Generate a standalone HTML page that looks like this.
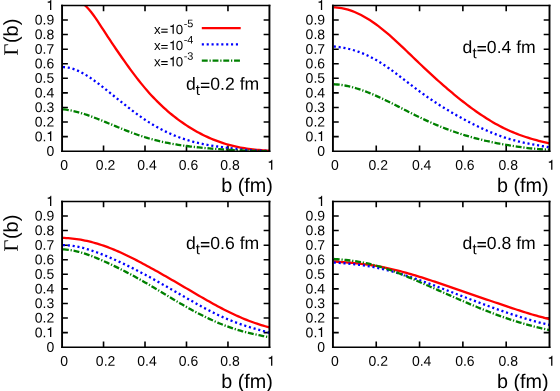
<!DOCTYPE html>
<html><head><meta charset="utf-8"><title>plot</title>
<style>html,body{margin:0;padding:0;background:#fff;overflow:hidden;}svg{display:block;will-change:transform;}text{font-family:"Liberation Sans",sans-serif;fill:#000;}.s{font-family:"Liberation Serif",serif;}.h{fill:none;}</style></head><body>
<svg width="560" height="391" viewBox="0 0 560 391">
<rect width="560" height="391" fill="#fff"/>
<clipPath id="cTL"><rect x="62.07" y="5.43" width="207.36" height="145.77"/></clipPath>
<path d="M62.07 136.62h5.8M269.43 136.62h-5.8M62.07 122.05h5.8M269.43 122.05h-5.8M62.07 107.47h5.8M269.43 107.47h-5.8M62.07 92.89h5.8M269.43 92.89h-5.8M62.07 78.31h5.8M269.43 78.31h-5.8M62.07 63.74h5.8M269.43 63.74h-5.8M62.07 49.16h5.8M269.43 49.16h-5.8M62.07 34.58h5.8M269.43 34.58h-5.8M62.07 20.01h5.8M269.43 20.01h-5.8" stroke="#000" stroke-width="1.55" fill="none"/>
<path d="M103.54 151.2v-5.8M103.54 5.43v5.8M145.01 151.2v-5.8M145.01 5.43v5.8M186.49 151.2v-5.8M186.49 5.43v5.8M227.96 151.2v-5.8M227.96 5.43v5.8" stroke="#000" stroke-width="1.6" fill="none"/>
<g clip-path="url(#cTL)" fill="none" stroke-width="2.3">
<polyline points="62.92,-3.06 64.14,-2.48 66.22,-1.7 68.29,-1.11 70.36,-0.64 72.44,-0.22 74.51,0.22 76.59,0.76 78.66,1.47 80.73,2.41 82.81,3.67 84.88,5.28 86.95,7.24 89.03,9.49 91.1,12.01 93.17,14.74 95.25,17.65 97.32,20.69 99.39,23.84 101.47,27.03 103.54,30.24 105.62,33.43 107.69,36.6 109.76,39.74 111.84,42.85 113.91,45.93 115.98,48.98 118.06,52.01 120.13,55.01 122.2,57.98 124.28,60.92 126.35,63.84 128.43,66.72 130.5,69.56 132.57,72.36 134.65,75.12 136.72,77.83 138.79,80.49 140.87,83.1 142.94,85.64 145.01,88.12 147.09,90.54 149.16,92.89 151.23,95.17 153.31,97.39 155.38,99.55 157.46,101.65 159.53,103.69 161.6,105.67 163.68,107.6 165.75,109.47 167.82,111.28 169.9,113.04 171.97,114.75 174.04,116.41 176.12,118.02 178.19,119.58 180.27,121.09 182.34,122.56 184.41,123.98 186.49,125.36 188.56,126.7 190.63,127.99 192.71,129.25 194.78,130.46 196.85,131.63 198.93,132.77 201,133.86 203.07,134.91 205.15,135.93 207.22,136.9 209.3,137.84 211.37,138.73 213.44,139.59 215.52,140.42 217.59,141.2 219.66,141.95 221.74,142.66 223.81,143.34 225.88,143.98 227.96,144.58 230.03,145.15 232.11,145.69 234.18,146.19 236.25,146.66 238.33,147.1 240.4,147.51 242.47,147.89 244.55,148.24 246.62,148.56 248.69,148.86 250.77,149.13 252.84,149.38 254.91,149.61 256.99,149.81 259.06,149.99 261.14,150.16 263.21,150.3 265.28,150.42 267.36,150.53 269.43,150.62" stroke="#ff0000"/>
<polyline points="62.92,67.17 64.14,67.2 66.22,67.36 68.29,67.67 70.36,68.11 72.44,68.68 74.51,69.37 76.59,70.17 78.66,71.08 80.73,72.09 82.81,73.19 84.88,74.37 86.95,75.64 89.03,76.97 91.1,78.37 93.17,79.82 95.25,81.33 97.32,82.87 99.39,84.45 101.47,86.06 103.54,87.69 105.62,89.34 107.69,91 109.76,92.66 111.84,94.33 113.91,96.01 115.98,97.68 118.06,99.36 120.13,101.03 122.2,102.69 124.28,104.34 126.35,105.98 128.43,107.6 130.5,109.2 132.57,110.79 134.65,112.35 136.72,113.88 138.79,115.39 140.87,116.86 142.94,118.3 145.01,119.71 147.09,121.07 149.16,122.4 151.23,123.68 153.31,124.93 155.38,126.14 157.46,127.31 159.53,128.44 161.6,129.54 163.68,130.59 165.75,131.61 167.82,132.6 169.9,133.54 171.97,134.46 174.04,135.33 176.12,136.17 178.19,136.97 180.27,137.74 182.34,138.47 184.41,139.17 186.49,139.83 188.56,140.46 190.63,141.06 192.71,141.62 194.78,142.15 196.85,142.66 198.93,143.14 201,143.6 203.07,144.03 205.15,144.43 207.22,144.82 209.3,145.19 211.37,145.54 213.44,145.88 215.52,146.19 217.59,146.5 219.66,146.8 221.74,147.08 223.81,147.36 225.88,147.62 227.96,147.89 230.03,148.15 232.11,148.4 234.18,148.65 236.25,148.88 238.33,149.11 240.4,149.34 242.47,149.55 244.55,149.74 246.62,149.93 248.69,150.1 250.77,150.26 252.84,150.4 254.91,150.52 256.99,150.62 259.06,150.71 261.14,150.77 263.21,150.81 265.28,150.83 267.36,150.83 269.43,150.8" stroke="#0000ff" stroke-dasharray="2.1 2.77"/>
<polyline points="62.92,109.3 64.14,109.43 66.22,109.7 68.29,110.02 70.36,110.4 72.44,110.82 74.51,111.29 76.59,111.81 78.66,112.37 80.73,112.96 82.81,113.59 84.88,114.25 86.95,114.95 89.03,115.67 91.1,116.41 93.17,117.18 95.25,117.97 97.32,118.78 99.39,119.6 101.47,120.43 103.54,121.27 105.62,122.11 107.69,122.97 109.76,123.82 111.84,124.68 113.91,125.53 115.98,126.39 118.06,127.24 120.13,128.09 122.2,128.93 124.28,129.76 126.35,130.58 128.43,131.39 130.5,132.19 132.57,132.97 134.65,133.74 136.72,134.48 138.79,135.21 140.87,135.92 142.94,136.6 145.01,137.26 147.09,137.9 149.16,138.51 151.23,139.09 153.31,139.65 155.38,140.19 157.46,140.71 159.53,141.2 161.6,141.68 163.68,142.13 165.75,142.56 167.82,142.98 169.9,143.37 171.97,143.75 174.04,144.12 176.12,144.46 178.19,144.8 180.27,145.12 182.34,145.42 184.41,145.71 186.49,145.99 188.56,146.26 190.63,146.52 192.71,146.77 194.78,147.01 196.85,147.24 198.93,147.45 201,147.66 203.07,147.86 205.15,148.06 207.22,148.24 209.3,148.42 211.37,148.59 213.44,148.76 215.52,148.91 217.59,149.06 219.66,149.21 221.74,149.35 223.81,149.49 225.88,149.62 227.96,149.75 230.03,149.87 232.11,149.99 234.18,150.11 236.25,150.22 238.33,150.33 240.4,150.43 242.47,150.52 244.55,150.61 246.62,150.69 248.69,150.76 250.77,150.83 252.84,150.89 254.91,150.94 256.99,150.98 259.06,151.01 261.14,151.04 263.21,151.05 265.28,151.05 267.36,151.04 269.43,151.02" stroke="#008000" stroke-dasharray="5.9 1.8 1.25 1.8"/>
</g>
<path d="M61.12 5.43H270.38M61.12 151.2H270.38" stroke="#000" stroke-width="1.55" fill="none"/>
<path d="M62.07 4.65V151.97M269.43 4.65V151.97" stroke="#000" stroke-width="1.9" fill="none"/>
<text transform="matrix(1 .0005 0 1 54.22 155.75)" font-size="14" text-anchor="end">0</text>
<text transform="matrix(1 .0005 0 1 54.22 141.17)" font-size="14" text-anchor="end">0.<tspan class="h">1</tspan></text>
<path d="M51.31 141.07V130.97H50.62C50.37 132.27 49.27 132.72 47.72 132.72V133.92H50.03V141.07Z" fill="#000"/>
<text transform="matrix(1 .0005 0 1 54.22 126.6)" font-size="14" text-anchor="end">0.2</text>
<text transform="matrix(1 .0005 0 1 54.22 112.02)" font-size="14" text-anchor="end">0.3</text>
<text transform="matrix(1 .0005 0 1 54.22 97.44)" font-size="14" text-anchor="end">0.4</text>
<text transform="matrix(1 .0005 0 1 54.22 82.86)" font-size="14" text-anchor="end">0.5</text>
<text transform="matrix(1 .0005 0 1 54.22 68.29)" font-size="14" text-anchor="end">0.6</text>
<text transform="matrix(1 .0005 0 1 54.22 53.71)" font-size="14" text-anchor="end">0.7</text>
<text transform="matrix(1 .0005 0 1 54.22 39.13)" font-size="14" text-anchor="end">0.8</text>
<text transform="matrix(1 .0005 0 1 54.22 24.56)" font-size="14" text-anchor="end">0.9</text>
<text class="h" transform="matrix(1 .0005 0 1 54.22 9.98)" font-size="14" text-anchor="end">1</text>
<path d="M51.31 9.88V-0.22H50.62C50.37 1.08 49.27 1.53 47.72 1.53V2.73H50.03V9.88Z" fill="#000"/>
<text transform="matrix(1 .0005 0 1 64.12 169.85)" font-size="14" text-anchor="middle">0</text>
<text transform="matrix(1 .0005 0 1 105.59 169.85)" font-size="14" text-anchor="middle">0.2</text>
<text transform="matrix(1 .0005 0 1 147.06 169.85)" font-size="14" text-anchor="middle">0.4</text>
<text transform="matrix(1 .0005 0 1 188.54 169.85)" font-size="14" text-anchor="middle">0.6</text>
<text transform="matrix(1 .0005 0 1 230.01 169.85)" font-size="14" text-anchor="middle">0.8</text>
<text class="h" transform="matrix(1 .0005 0 1 271.48 169.85)" font-size="14" text-anchor="middle">1</text>
<path d="M272.34 169.8V159.7H271.65C271.4 161 270.3 161.45 268.75 161.45V162.65H271.06V169.8Z" fill="#000"/>
<text transform="matrix(1 .0005 0 1 272.93 192)" font-size="19.8" text-anchor="end">b (fm)</text>
<text transform="matrix(1 .0005 0 1 186.03 89.63)" font-size="17.6">d<tspan font-size="15" dy="5.3">t</tspan><tspan class="h" dy="-5.3">=</tspan>0.2 fm</text>
<path d="M200.87 82.75h8.54v1.37h-8.54zM200.87 86.57h8.54v1.37h-8.54z" fill="#000"/>
<text transform="matrix(.0005 -1 1 0 17.8 55.53)" font-size="20"><tspan class="s" font-size="20.5">&#915;</tspan><tspan dx="0.6">(b)</tspan></text>
<clipPath id="cTR"><rect x="332.93" y="5.43" width="216.57" height="145.77"/></clipPath>
<path d="M332.93 136.62h5.8M549.5 136.62h-5.8M332.93 122.05h5.8M549.5 122.05h-5.8M332.93 107.47h5.8M549.5 107.47h-5.8M332.93 92.89h5.8M549.5 92.89h-5.8M332.93 78.31h5.8M549.5 78.31h-5.8M332.93 63.74h5.8M549.5 63.74h-5.8M332.93 49.16h5.8M549.5 49.16h-5.8M332.93 34.58h5.8M549.5 34.58h-5.8M332.93 20.01h5.8M549.5 20.01h-5.8" stroke="#000" stroke-width="1.55" fill="none"/>
<path d="M376.24 151.2v-5.8M376.24 5.43v5.8M419.56 151.2v-5.8M419.56 5.43v5.8M462.87 151.2v-5.8M462.87 5.43v5.8M506.19 151.2v-5.8M506.19 5.43v5.8" stroke="#000" stroke-width="1.6" fill="none"/>
<g clip-path="url(#cTR)" fill="none" stroke-width="2.3">
<polyline points="333.78,7.31 335.1,7.37 337.26,7.54 339.43,7.8 341.59,8.15 343.76,8.58 345.92,9.11 348.09,9.71 350.26,10.4 352.42,11.18 354.59,12.03 356.75,12.95 358.92,13.96 361.08,15.04 363.25,16.19 365.42,17.41 367.58,18.7 369.75,20.06 371.91,21.48 374.08,22.97 376.24,24.52 378.41,26.13 380.58,27.8 382.74,29.53 384.91,31.3 387.07,33.12 389.24,34.98 391.4,36.88 393.57,38.82 395.74,40.79 397.9,42.79 400.07,44.81 402.23,46.85 404.4,48.9 406.56,50.98 408.73,53.06 410.9,55.14 413.06,57.23 415.23,59.32 417.39,61.4 419.56,63.47 421.72,65.54 423.89,67.58 426.06,69.62 428.22,71.64 430.39,73.64 432.55,75.63 434.72,77.61 436.88,79.56 439.05,81.5 441.22,83.42 443.38,85.33 445.55,87.21 447.71,89.07 449.88,90.91 452.04,92.74 454.21,94.53 456.37,96.31 458.54,98.07 460.71,99.8 462.87,101.5 465.04,103.18 467.2,104.84 469.37,106.47 471.53,108.07 473.7,109.64 475.87,111.19 478.03,112.7 480.2,114.18 482.36,115.64 484.53,117.05 486.69,118.44 488.86,119.79 491.03,121.11 493.19,122.39 495.36,123.63 497.52,124.84 499.69,126.01 501.85,127.14 504.02,128.22 506.19,129.27 508.35,130.28 510.52,131.24 512.68,132.17 514.85,133.06 517.01,133.91 519.18,134.73 521.35,135.52 523.51,136.27 525.68,137 527.84,137.7 530.01,138.37 532.17,139.01 534.34,139.63 536.51,140.23 538.67,140.81 540.84,141.37 543,141.91 545.17,142.44 547.33,142.95 549.5,143.45" stroke="#ff0000"/>
<polyline points="333.78,46.48 335.1,46.59 337.26,46.82 339.43,47.09 341.59,47.42 343.76,47.8 345.92,48.23 348.09,48.72 350.26,49.25 352.42,49.85 354.59,50.5 356.75,51.2 358.92,51.96 361.08,52.77 363.25,53.65 365.42,54.58 367.58,55.56 369.75,56.61 371.91,57.71 374.08,58.88 376.24,60.1 378.41,61.38 380.58,62.72 382.74,64.11 384.91,65.55 387.07,67.02 389.24,68.54 391.4,70.09 393.57,71.68 395.74,73.28 397.9,74.91 400.07,76.56 402.23,78.22 404.4,79.88 406.56,81.55 408.73,83.22 410.9,84.89 413.06,86.55 415.23,88.19 417.39,89.82 419.56,91.42 421.72,93 423.89,94.55 426.06,96.08 428.22,97.58 430.39,99.06 432.55,100.52 434.72,101.95 436.88,103.36 439.05,104.75 441.22,106.12 443.38,107.46 445.55,108.79 447.71,110.09 449.88,111.38 452.04,112.65 454.21,113.9 456.37,115.14 458.54,116.35 460.71,117.56 462.87,118.74 465.04,119.91 467.2,121.06 469.37,122.2 471.53,123.32 473.7,124.42 475.87,125.5 478.03,126.56 480.2,127.59 482.36,128.61 484.53,129.6 486.69,130.56 488.86,131.51 491.03,132.42 493.19,133.31 495.36,134.16 497.52,134.99 499.69,135.79 501.85,136.56 504.02,137.29 506.19,137.99 508.35,138.66 510.52,139.3 512.68,139.9 514.85,140.48 517.01,141.03 519.18,141.56 521.35,142.06 523.51,142.54 525.68,143.01 527.84,143.45 530.01,143.88 532.17,144.3 534.34,144.7 536.51,145.1 538.67,145.49 540.84,145.87 543,146.25 545.17,146.62 547.33,147 549.5,147.37" stroke="#0000ff" stroke-dasharray="2.1 2.77"/>
<polyline points="333.78,84.24 335.1,84.31 337.26,84.48 339.43,84.72 341.59,85 343.76,85.35 345.92,85.75 348.09,86.2 350.26,86.7 352.42,87.25 354.59,87.84 356.75,88.48 358.92,89.17 361.08,89.89 363.25,90.65 365.42,91.44 367.58,92.27 369.75,93.14 371.91,94.03 374.08,94.95 376.24,95.9 378.41,96.88 380.58,97.87 382.74,98.89 384.91,99.92 387.07,100.97 389.24,102.03 391.4,103.11 393.57,104.2 395.74,105.29 397.9,106.39 400.07,107.5 402.23,108.61 404.4,109.71 406.56,110.82 408.73,111.92 410.9,113.02 413.06,114.1 415.23,115.18 417.39,116.25 419.56,117.3 421.72,118.33 423.89,119.35 426.06,120.35 428.22,121.34 430.39,122.3 432.55,123.25 434.72,124.19 436.88,125.1 439.05,126 441.22,126.88 443.38,127.74 445.55,128.59 447.71,129.41 449.88,130.22 452.04,131 454.21,131.77 456.37,132.52 458.54,133.25 460.71,133.96 462.87,134.64 465.04,135.31 467.2,135.96 469.37,136.59 471.53,137.2 473.7,137.8 475.87,138.37 478.03,138.93 480.2,139.47 482.36,140 484.53,140.51 486.69,141 488.86,141.49 491.03,141.95 493.19,142.4 495.36,142.84 497.52,143.27 499.69,143.68 501.85,144.09 504.02,144.48 506.19,144.86 508.35,145.23 510.52,145.59 512.68,145.94 514.85,146.28 517.01,146.6 519.18,146.92 521.35,147.22 523.51,147.5 525.68,147.78 527.84,148.03 530.01,148.28 532.17,148.5 534.34,148.71 536.51,148.91 538.67,149.09 540.84,149.25 543,149.39 545.17,149.51 547.33,149.62 549.5,149.7" stroke="#008000" stroke-dasharray="5.9 1.8 1.25 1.8"/>
</g>
<path d="M331.98 5.43H550.45M331.98 151.2H550.45" stroke="#000" stroke-width="1.55" fill="none"/>
<path d="M332.93 4.65V151.97M549.5 4.65V151.97" stroke="#000" stroke-width="1.9" fill="none"/>
<text transform="matrix(1 .0005 0 1 325.08 155.75)" font-size="14" text-anchor="end">0</text>
<text transform="matrix(1 .0005 0 1 325.08 141.17)" font-size="14" text-anchor="end">0.<tspan class="h">1</tspan></text>
<path d="M322.17 141.07V130.97H321.48C321.23 132.27 320.13 132.72 318.58 132.72V133.92H320.89V141.07Z" fill="#000"/>
<text transform="matrix(1 .0005 0 1 325.08 126.6)" font-size="14" text-anchor="end">0.2</text>
<text transform="matrix(1 .0005 0 1 325.08 112.02)" font-size="14" text-anchor="end">0.3</text>
<text transform="matrix(1 .0005 0 1 325.08 97.44)" font-size="14" text-anchor="end">0.4</text>
<text transform="matrix(1 .0005 0 1 325.08 82.86)" font-size="14" text-anchor="end">0.5</text>
<text transform="matrix(1 .0005 0 1 325.08 68.29)" font-size="14" text-anchor="end">0.6</text>
<text transform="matrix(1 .0005 0 1 325.08 53.71)" font-size="14" text-anchor="end">0.7</text>
<text transform="matrix(1 .0005 0 1 325.08 39.13)" font-size="14" text-anchor="end">0.8</text>
<text transform="matrix(1 .0005 0 1 325.08 24.56)" font-size="14" text-anchor="end">0.9</text>
<text class="h" transform="matrix(1 .0005 0 1 325.08 9.98)" font-size="14" text-anchor="end">1</text>
<path d="M322.17 9.88V-0.22H321.48C321.23 1.08 320.13 1.53 318.58 1.53V2.73H320.89V9.88Z" fill="#000"/>
<text transform="matrix(1 .0005 0 1 334.98 169.85)" font-size="14" text-anchor="middle">0</text>
<text transform="matrix(1 .0005 0 1 378.29 169.85)" font-size="14" text-anchor="middle">0.2</text>
<text transform="matrix(1 .0005 0 1 421.61 169.85)" font-size="14" text-anchor="middle">0.4</text>
<text transform="matrix(1 .0005 0 1 464.92 169.85)" font-size="14" text-anchor="middle">0.6</text>
<text transform="matrix(1 .0005 0 1 508.24 169.85)" font-size="14" text-anchor="middle">0.8</text>
<text class="h" transform="matrix(1 .0005 0 1 551.55 169.85)" font-size="14" text-anchor="middle">1</text>
<path d="M552.41 169.8V159.7H551.72C551.47 161 550.37 161.45 548.82 161.45V162.65H551.13V169.8Z" fill="#000"/>
<text transform="matrix(1 .0005 0 1 548.7 192)" font-size="19.8" text-anchor="end">b (fm)</text>
<text transform="matrix(1 .0005 0 1 462.6 52.93)" font-size="17.6">d<tspan font-size="15" dy="5.3">t</tspan><tspan class="h" dy="-5.3">=</tspan>0.4 fm</text>
<path d="M477.44 46.05h8.54v1.37h-8.54zM477.44 49.87h8.54v1.37h-8.54z" fill="#000"/>
<clipPath id="cBL"><rect x="62.07" y="201.43" width="207.36" height="145.77"/></clipPath>
<path d="M62.07 332.62h5.8M269.43 332.62h-5.8M62.07 318.05h5.8M269.43 318.05h-5.8M62.07 303.47h5.8M269.43 303.47h-5.8M62.07 288.89h5.8M269.43 288.89h-5.8M62.07 274.31h5.8M269.43 274.31h-5.8M62.07 259.74h5.8M269.43 259.74h-5.8M62.07 245.16h5.8M269.43 245.16h-5.8M62.07 230.58h5.8M269.43 230.58h-5.8M62.07 216.01h5.8M269.43 216.01h-5.8" stroke="#000" stroke-width="1.55" fill="none"/>
<path d="M103.54 347.2v-5.8M103.54 201.43v5.8M145.01 347.2v-5.8M145.01 201.43v5.8M186.49 347.2v-5.8M186.49 201.43v5.8M227.96 347.2v-5.8M227.96 201.43v5.8" stroke="#000" stroke-width="1.6" fill="none"/>
<g clip-path="url(#cBL)" fill="none" stroke-width="2.3">
<polyline points="62.92,237.92 64.14,237.96 66.22,238.06 68.29,238.2 70.36,238.37 72.44,238.57 74.51,238.81 76.59,239.08 78.66,239.39 80.73,239.73 82.81,240.11 84.88,240.52 86.95,240.96 89.03,241.44 91.1,241.95 93.17,242.49 95.25,243.06 97.32,243.67 99.39,244.3 101.47,244.97 103.54,245.68 105.62,246.41 107.69,247.17 109.76,247.96 111.84,248.78 113.91,249.63 115.98,250.5 118.06,251.39 120.13,252.31 122.2,253.25 124.28,254.22 126.35,255.2 128.43,256.2 130.5,257.22 132.57,258.26 134.65,259.31 136.72,260.38 138.79,261.46 140.87,262.55 142.94,263.65 145.01,264.76 147.09,265.89 149.16,267.02 151.23,268.15 153.31,269.3 155.38,270.45 157.46,271.61 159.53,272.78 161.6,273.95 163.68,275.13 165.75,276.32 167.82,277.51 169.9,278.7 171.97,279.9 174.04,281.1 176.12,282.31 178.19,283.52 180.27,284.73 182.34,285.94 184.41,287.16 186.49,288.38 188.56,289.59 190.63,290.81 192.71,292.03 194.78,293.25 196.85,294.46 198.93,295.67 201,296.88 203.07,298.08 205.15,299.27 207.22,300.45 209.3,301.62 211.37,302.78 213.44,303.93 215.52,305.07 217.59,306.19 219.66,307.3 221.74,308.39 223.81,309.46 225.88,310.52 227.96,311.56 230.03,312.57 232.11,313.57 234.18,314.54 236.25,315.49 238.33,316.42 240.4,317.32 242.47,318.21 244.55,319.07 246.62,319.9 248.69,320.71 250.77,321.5 252.84,322.26 254.91,322.99 256.99,323.7 259.06,324.38 261.14,325.03 263.21,325.66 265.28,326.26 267.36,326.83 269.43,327.37" stroke="#ff0000"/>
<polyline points="62.92,245.18 64.14,245.18 66.22,245.24 68.29,245.37 70.36,245.56 72.44,245.82 74.51,246.12 76.59,246.49 78.66,246.91 80.73,247.37 82.81,247.88 84.88,248.44 86.95,249.04 89.03,249.67 91.1,250.34 93.17,251.05 95.25,251.78 97.32,252.54 99.39,253.33 101.47,254.14 103.54,254.96 105.62,255.81 107.69,256.67 109.76,257.55 111.84,258.44 113.91,259.34 115.98,260.27 118.06,261.2 120.13,262.15 122.2,263.12 124.28,264.1 126.35,265.09 128.43,266.1 130.5,267.12 132.57,268.15 134.65,269.2 136.72,270.26 138.79,271.33 140.87,272.41 142.94,273.5 145.01,274.61 147.09,275.72 149.16,276.85 151.23,277.99 153.31,279.13 155.38,280.28 157.46,281.45 159.53,282.61 161.6,283.79 163.68,284.96 165.75,286.15 167.82,287.33 169.9,288.52 171.97,289.71 174.04,290.9 176.12,292.1 178.19,293.29 180.27,294.48 182.34,295.68 184.41,296.86 186.49,298.05 188.56,299.23 190.63,300.41 192.71,301.58 194.78,302.74 196.85,303.9 198.93,305.04 201,306.18 203.07,307.3 205.15,308.41 207.22,309.5 209.3,310.58 211.37,311.64 213.44,312.68 215.52,313.71 217.59,314.71 219.66,315.69 221.74,316.65 223.81,317.58 225.88,318.49 227.96,319.37 230.03,320.23 232.11,321.05 234.18,321.86 236.25,322.63 238.33,323.39 240.4,324.12 242.47,324.83 244.55,325.52 246.62,326.19 248.69,326.84 250.77,327.48 252.84,328.1 254.91,328.71 256.99,329.3 259.06,329.88 261.14,330.45 263.21,331.01 265.28,331.56 267.36,332.1 269.43,332.64" stroke="#0000ff" stroke-dasharray="2.1 2.77"/>
<polyline points="62.92,249.4 64.14,249.46 66.22,249.61 68.29,249.83 70.36,250.11 72.44,250.46 74.51,250.86 76.59,251.32 78.66,251.83 80.73,252.39 82.81,253 84.88,253.65 86.95,254.34 89.03,255.07 91.1,255.84 93.17,256.64 95.25,257.47 97.32,258.32 99.39,259.2 101.47,260.11 103.54,261.02 105.62,261.96 107.69,262.91 109.76,263.87 111.84,264.85 113.91,265.85 115.98,266.86 118.06,267.88 120.13,268.92 122.2,269.97 124.28,271.03 126.35,272.11 128.43,273.2 130.5,274.3 132.57,275.42 134.65,276.55 136.72,277.7 138.79,278.85 140.87,280.02 142.94,281.2 145.01,282.39 147.09,283.6 149.16,284.81 151.23,286.03 153.31,287.26 155.38,288.5 157.46,289.74 159.53,290.99 161.6,292.24 163.68,293.49 165.75,294.74 167.82,295.99 169.9,297.24 171.97,298.49 174.04,299.72 176.12,300.96 178.19,302.18 180.27,303.39 182.34,304.6 184.41,305.79 186.49,306.97 188.56,308.14 190.63,309.29 192.71,310.42 194.78,311.54 196.85,312.64 198.93,313.73 201,314.79 203.07,315.84 205.15,316.87 207.22,317.87 209.3,318.86 211.37,319.82 213.44,320.76 215.52,321.68 217.59,322.58 219.66,323.44 221.74,324.29 223.81,325.11 225.88,325.9 227.96,326.66 230.03,327.4 232.11,328.11 234.18,328.79 236.25,329.45 238.33,330.08 240.4,330.69 242.47,331.28 244.55,331.84 246.62,332.38 248.69,332.9 250.77,333.4 252.84,333.88 254.91,334.35 256.99,334.79 259.06,335.22 261.14,335.64 263.21,336.03 265.28,336.42 267.36,336.79 269.43,337.14" stroke="#008000" stroke-dasharray="5.9 1.8 1.25 1.8"/>
</g>
<path d="M61.12 201.43H270.38M61.12 347.2H270.38" stroke="#000" stroke-width="1.55" fill="none"/>
<path d="M62.07 200.66V347.97M269.43 200.66V347.97" stroke="#000" stroke-width="1.9" fill="none"/>
<text transform="matrix(1 .0005 0 1 54.22 351.75)" font-size="14" text-anchor="end">0</text>
<text transform="matrix(1 .0005 0 1 54.22 337.17)" font-size="14" text-anchor="end">0.<tspan class="h">1</tspan></text>
<path d="M51.31 337.07V326.97H50.62C50.37 328.27 49.27 328.72 47.72 328.72V329.92H50.03V337.07Z" fill="#000"/>
<text transform="matrix(1 .0005 0 1 54.22 322.6)" font-size="14" text-anchor="end">0.2</text>
<text transform="matrix(1 .0005 0 1 54.22 308.02)" font-size="14" text-anchor="end">0.3</text>
<text transform="matrix(1 .0005 0 1 54.22 293.44)" font-size="14" text-anchor="end">0.4</text>
<text transform="matrix(1 .0005 0 1 54.22 278.87)" font-size="14" text-anchor="end">0.5</text>
<text transform="matrix(1 .0005 0 1 54.22 264.29)" font-size="14" text-anchor="end">0.6</text>
<text transform="matrix(1 .0005 0 1 54.22 249.71)" font-size="14" text-anchor="end">0.7</text>
<text transform="matrix(1 .0005 0 1 54.22 235.13)" font-size="14" text-anchor="end">0.8</text>
<text transform="matrix(1 .0005 0 1 54.22 220.56)" font-size="14" text-anchor="end">0.9</text>
<text class="h" transform="matrix(1 .0005 0 1 54.22 205.98)" font-size="14" text-anchor="end">1</text>
<path d="M51.31 205.88V195.78H50.62C50.37 197.08 49.27 197.53 47.72 197.53V198.73H50.03V205.88Z" fill="#000"/>
<text transform="matrix(1 .0005 0 1 64.12 365.85)" font-size="14" text-anchor="middle">0</text>
<text transform="matrix(1 .0005 0 1 105.59 365.85)" font-size="14" text-anchor="middle">0.2</text>
<text transform="matrix(1 .0005 0 1 147.06 365.85)" font-size="14" text-anchor="middle">0.4</text>
<text transform="matrix(1 .0005 0 1 188.54 365.85)" font-size="14" text-anchor="middle">0.6</text>
<text transform="matrix(1 .0005 0 1 230.01 365.85)" font-size="14" text-anchor="middle">0.8</text>
<text class="h" transform="matrix(1 .0005 0 1 271.48 365.85)" font-size="14" text-anchor="middle">1</text>
<path d="M272.34 365.8V355.7H271.65C271.4 357 270.3 357.45 268.75 357.45V358.65H271.06V365.8Z" fill="#000"/>
<text transform="matrix(1 .0005 0 1 272.93 388)" font-size="19.8" text-anchor="end">b (fm)</text>
<text transform="matrix(1 .0005 0 1 186.03 248.93)" font-size="17.6">d<tspan font-size="15" dy="5.3">t</tspan><tspan class="h" dy="-5.3">=</tspan>0.6 fm</text>
<path d="M200.87 242.05h8.54v1.37h-8.54zM200.87 245.87h8.54v1.37h-8.54z" fill="#000"/>
<text transform="matrix(.0005 -1 1 0 17.8 251.53)" font-size="20"><tspan class="s" font-size="20.5">&#915;</tspan><tspan dx="0.6">(b)</tspan></text>
<clipPath id="cBR"><rect x="332.93" y="201.43" width="216.57" height="145.77"/></clipPath>
<path d="M332.93 332.62h5.8M549.5 332.62h-5.8M332.93 318.05h5.8M549.5 318.05h-5.8M332.93 303.47h5.8M549.5 303.47h-5.8M332.93 288.89h5.8M549.5 288.89h-5.8M332.93 274.31h5.8M549.5 274.31h-5.8M332.93 259.74h5.8M549.5 259.74h-5.8M332.93 245.16h5.8M549.5 245.16h-5.8M332.93 230.58h5.8M549.5 230.58h-5.8M332.93 216.01h5.8M549.5 216.01h-5.8" stroke="#000" stroke-width="1.55" fill="none"/>
<path d="M376.24 347.2v-5.8M376.24 201.43v5.8M419.56 347.2v-5.8M419.56 201.43v5.8M462.87 347.2v-5.8M462.87 201.43v5.8M506.19 347.2v-5.8M506.19 201.43v5.8" stroke="#000" stroke-width="1.6" fill="none"/>
<g clip-path="url(#cBR)" fill="none" stroke-width="2.3">
<polyline points="333.78,261.63 335.1,261.71 337.26,261.83 339.43,261.96 341.59,262.1 343.76,262.24 345.92,262.4 348.09,262.56 350.26,262.74 352.42,262.93 354.59,263.13 356.75,263.34 358.92,263.57 361.08,263.81 363.25,264.07 365.42,264.34 367.58,264.63 369.75,264.93 371.91,265.26 374.08,265.6 376.24,265.96 378.41,266.35 380.58,266.75 382.74,267.17 384.91,267.61 387.07,268.07 389.24,268.55 391.4,269.05 393.57,269.56 395.74,270.09 397.9,270.63 400.07,271.19 402.23,271.76 404.4,272.34 406.56,272.94 408.73,273.56 410.9,274.18 413.06,274.82 415.23,275.47 417.39,276.13 419.56,276.8 421.72,277.47 423.89,278.16 426.06,278.86 428.22,279.56 430.39,280.27 432.55,280.99 434.72,281.71 436.88,282.44 439.05,283.18 441.22,283.92 443.38,284.66 445.55,285.41 447.71,286.15 449.88,286.91 452.04,287.66 454.21,288.41 456.37,289.16 458.54,289.92 460.71,290.67 462.87,291.42 465.04,292.16 467.2,292.91 469.37,293.65 471.53,294.4 473.7,295.14 475.87,295.88 478.03,296.61 480.2,297.35 482.36,298.09 484.53,298.82 486.69,299.55 488.86,300.28 491.03,301.01 493.19,301.74 495.36,302.47 497.52,303.2 499.69,303.93 501.85,304.66 504.02,305.38 506.19,306.11 508.35,306.84 510.52,307.56 512.68,308.29 514.85,309 517.01,309.72 519.18,310.43 521.35,311.13 523.51,311.82 525.68,312.5 527.84,313.18 530.01,313.84 532.17,314.48 534.34,315.11 536.51,315.73 538.67,316.33 540.84,316.91 543,317.47 545.17,318.01 547.33,318.53 549.5,319.03" stroke="#ff0000"/>
<polyline points="333.78,262.54 335.1,262.62 337.26,262.77 339.43,262.92 341.59,263.08 343.76,263.25 345.92,263.43 348.09,263.63 350.26,263.83 352.42,264.05 354.59,264.29 356.75,264.54 358.92,264.8 361.08,265.09 363.25,265.39 365.42,265.71 367.58,266.05 369.75,266.41 371.91,266.79 374.08,267.2 376.24,267.62 378.41,268.07 380.58,268.55 382.74,269.04 384.91,269.56 387.07,270.1 389.24,270.66 391.4,271.24 393.57,271.84 395.74,272.45 397.9,273.09 400.07,273.73 402.23,274.4 404.4,275.08 406.56,275.77 408.73,276.47 410.9,277.19 413.06,277.92 415.23,278.66 417.39,279.41 419.56,280.17 421.72,280.94 423.89,281.71 426.06,282.5 428.22,283.29 430.39,284.08 432.55,284.88 434.72,285.69 436.88,286.5 439.05,287.32 441.22,288.14 443.38,288.97 445.55,289.79 447.71,290.62 449.88,291.45 452.04,292.28 454.21,293.12 456.37,293.95 458.54,294.79 460.71,295.62 462.87,296.45 465.04,297.28 467.2,298.11 469.37,298.94 471.53,299.76 473.7,300.58 475.87,301.4 478.03,302.21 480.2,303.02 482.36,303.83 484.53,304.63 486.69,305.43 488.86,306.22 491.03,307.01 493.19,307.8 495.36,308.57 497.52,309.34 499.69,310.11 501.85,310.87 504.02,311.62 506.19,312.36 508.35,313.1 510.52,313.83 512.68,314.55 514.85,315.26 517.01,315.96 519.18,316.65 521.35,317.33 523.51,318 525.68,318.66 527.84,319.3 530.01,319.93 532.17,320.55 534.34,321.15 536.51,321.73 538.67,322.3 540.84,322.86 543,323.39 545.17,323.91 547.33,324.41 549.5,324.89" stroke="#0000ff" stroke-dasharray="2.1 2.77"/>
<polyline points="333.78,258.97 335.1,259.06 337.26,259.21 339.43,259.38 341.59,259.57 343.76,259.77 345.92,260 348.09,260.24 350.26,260.51 352.42,260.8 354.59,261.11 356.75,261.44 358.92,261.8 361.08,262.18 363.25,262.59 365.42,263.03 367.58,263.49 369.75,263.99 371.91,264.51 374.08,265.06 376.24,265.64 378.41,266.25 380.58,266.89 382.74,267.56 384.91,268.26 387.07,268.99 389.24,269.73 391.4,270.51 393.57,271.3 395.74,272.11 397.9,272.94 400.07,273.79 402.23,274.66 404.4,275.54 406.56,276.43 408.73,277.34 410.9,278.26 413.06,279.18 415.23,280.11 417.39,281.05 419.56,282 421.72,282.95 423.89,283.9 426.06,284.85 428.22,285.81 430.39,286.76 432.55,287.72 434.72,288.68 436.88,289.64 439.05,290.61 441.22,291.57 443.38,292.53 445.55,293.49 447.71,294.44 449.88,295.4 452.04,296.35 454.21,297.3 456.37,298.25 458.54,299.19 460.71,300.13 462.87,301.07 465.04,302 467.2,302.92 469.37,303.84 471.53,304.76 473.7,305.66 475.87,306.56 478.03,307.45 480.2,308.34 482.36,309.21 484.53,310.08 486.69,310.93 488.86,311.78 491.03,312.61 493.19,313.44 495.36,314.25 497.52,315.05 499.69,315.83 501.85,316.61 504.02,317.37 506.19,318.12 508.35,318.85 510.52,319.56 512.68,320.27 514.85,320.96 517.01,321.63 519.18,322.29 521.35,322.94 523.51,323.57 525.68,324.19 527.84,324.8 530.01,325.4 532.17,325.98 534.34,326.54 536.51,327.1 538.67,327.64 540.84,328.17 543,328.69 545.17,329.19 547.33,329.69 549.5,330.17" stroke="#008000" stroke-dasharray="5.9 1.8 1.25 1.8"/>
</g>
<path d="M331.98 201.43H550.45M331.98 347.2H550.45" stroke="#000" stroke-width="1.55" fill="none"/>
<path d="M332.93 200.66V347.97M549.5 200.66V347.97" stroke="#000" stroke-width="1.9" fill="none"/>
<text transform="matrix(1 .0005 0 1 325.08 351.75)" font-size="14" text-anchor="end">0</text>
<text transform="matrix(1 .0005 0 1 325.08 337.17)" font-size="14" text-anchor="end">0.<tspan class="h">1</tspan></text>
<path d="M322.17 337.07V326.97H321.48C321.23 328.27 320.13 328.72 318.58 328.72V329.92H320.89V337.07Z" fill="#000"/>
<text transform="matrix(1 .0005 0 1 325.08 322.6)" font-size="14" text-anchor="end">0.2</text>
<text transform="matrix(1 .0005 0 1 325.08 308.02)" font-size="14" text-anchor="end">0.3</text>
<text transform="matrix(1 .0005 0 1 325.08 293.44)" font-size="14" text-anchor="end">0.4</text>
<text transform="matrix(1 .0005 0 1 325.08 278.87)" font-size="14" text-anchor="end">0.5</text>
<text transform="matrix(1 .0005 0 1 325.08 264.29)" font-size="14" text-anchor="end">0.6</text>
<text transform="matrix(1 .0005 0 1 325.08 249.71)" font-size="14" text-anchor="end">0.7</text>
<text transform="matrix(1 .0005 0 1 325.08 235.13)" font-size="14" text-anchor="end">0.8</text>
<text transform="matrix(1 .0005 0 1 325.08 220.56)" font-size="14" text-anchor="end">0.9</text>
<text class="h" transform="matrix(1 .0005 0 1 325.08 205.98)" font-size="14" text-anchor="end">1</text>
<path d="M322.17 205.88V195.78H321.48C321.23 197.08 320.13 197.53 318.58 197.53V198.73H320.89V205.88Z" fill="#000"/>
<text transform="matrix(1 .0005 0 1 334.98 365.85)" font-size="14" text-anchor="middle">0</text>
<text transform="matrix(1 .0005 0 1 378.29 365.85)" font-size="14" text-anchor="middle">0.2</text>
<text transform="matrix(1 .0005 0 1 421.61 365.85)" font-size="14" text-anchor="middle">0.4</text>
<text transform="matrix(1 .0005 0 1 464.92 365.85)" font-size="14" text-anchor="middle">0.6</text>
<text transform="matrix(1 .0005 0 1 508.24 365.85)" font-size="14" text-anchor="middle">0.8</text>
<text class="h" transform="matrix(1 .0005 0 1 551.55 365.85)" font-size="14" text-anchor="middle">1</text>
<path d="M552.41 365.8V355.7H551.72C551.47 357 550.37 357.45 548.82 357.45V358.65H551.13V365.8Z" fill="#000"/>
<text transform="matrix(1 .0005 0 1 548.7 388)" font-size="19.8" text-anchor="end">b (fm)</text>
<text transform="matrix(1 .0005 0 1 462.6 248.93)" font-size="17.6">d<tspan font-size="15" dy="5.3">t</tspan><tspan class="h" dy="-5.3">=</tspan>0.8 fm</text>
<path d="M477.44 242.05h8.54v1.37h-8.54zM477.44 245.87h8.54v1.37h-8.54z" fill="#000"/>
<text transform="matrix(1 .0005 0 1 153.9 33.9)" font-size="13.3">x<tspan class="h">=1</tspan>0<tspan font-size="10.9" dx="0.6" dy="-6.6">-5</tspan></text>
<path d="M161.22 28.7h6.45v1.04h-6.45zM161.22 31.59h6.45v1.04h-6.45z" fill="#000"/>
<path d="M173.78 33.8V24.2H173.12C172.89 25.44 171.84 25.87 170.37 25.87V27.01H172.56V33.8Z" fill="#000"/>
<path d="M201.8 28.2H240.7" stroke="#ff0000" stroke-width="2.3" fill="none"/>
<text transform="matrix(1 .0005 0 1 153.9 50.1)" font-size="13.3">x<tspan class="h">=1</tspan>0<tspan font-size="10.9" dx="0.6" dy="-6.6">-4</tspan></text>
<path d="M161.22 44.9h6.45v1.04h-6.45zM161.22 47.79h6.45v1.04h-6.45z" fill="#000"/>
<path d="M173.78 50V40.41H173.12C172.89 41.64 171.84 42.07 170.37 42.07V43.21H172.56V50Z" fill="#000"/>
<path d="M201.8 44.4H240.7" stroke="#0000ff" stroke-width="2.3" fill="none" stroke-dasharray="2.1 2.77"/>
<text transform="matrix(1 .0005 0 1 153.9 66.3)" font-size="13.3">x<tspan class="h">=1</tspan>0<tspan font-size="10.9" dx="0.6" dy="-6.6">-3</tspan></text>
<path d="M161.22 61.1h6.45v1.04h-6.45zM161.22 63.99h6.45v1.04h-6.45z" fill="#000"/>
<path d="M173.78 66.2V56.61H173.12C172.89 57.84 171.84 58.27 170.37 58.27V59.41H172.56V66.2Z" fill="#000"/>
<path d="M201.8 60.6H240.7" stroke="#008000" stroke-width="2.3" fill="none" stroke-dasharray="5.9 1.8 1.25 1.8"/>
</svg>
</body></html>
